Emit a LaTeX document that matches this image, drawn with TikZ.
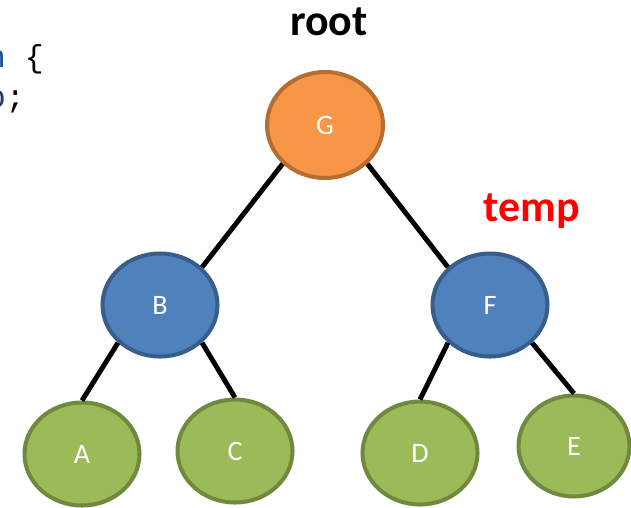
\documentclass[tikz,border=0pt]{standalone}
\usepackage{fontspec}
\setmainfont{Carlito}
\newfontfamily\codefont{Liberation Mono}
\usepackage{xcolor}
\usetikzlibrary{shapes.geometric}

\definecolor{rootfill}{HTML}{F79646}
\definecolor{rootline}{HTML}{B66D31}
\definecolor{innerfill}{HTML}{4F81BD}
\definecolor{innerline}{HTML}{385D8A}
\definecolor{leaffill}{HTML}{9BBB59}
\definecolor{leafline}{HTML}{71893F}
\definecolor{keyword}{HTML}{1F4E9B}
\definecolor{ident}{HTML}{1F3864}

\tikzset{
  treenode/.style={ellipse, inner sep=0pt, line width=2.3pt, minimum width=2.3cm, minimum height=2.06cm, text=white, font=\fontsize{16}{18}\selectfont},
  rootnode/.style={treenode, fill=rootfill, draw=rootline, minimum width=2.32cm, minimum height=2.12cm},
  innernode/.style={treenode, fill=innerfill, draw=innerline},
  leafnode/.style={treenode, fill=leaffill, draw=leafline},
  pointer/.style={font=\fontsize{25}{28}\selectfont\bfseries},
  codeline/.style={anchor=base west, inner sep=0pt, font=\codefont\fontsize{18}{20}\selectfont},
  branch/.style={line width=2.8pt}
}

\begin{document}
\begin{tikzpicture}[x=0.02cm, y=-0.02cm]
\useasboundingbox (0,0) rectangle (631,507);
\clip (0,0) rectangle (631,507);

% tail of the code listing on the left
\node (code1) [codeline] at (-13.5,67) {\textcolor{keyword}{n} \{};
\node (code2) [codeline] at (-13.5,107) {\textcolor{ident}{o};};

% the tree
\node (G) [rootnode] at (325,125) {G};
\node (B) [innernode] at (160,305) {B};
\node (F) [innernode] at (490,305) {F};
\node (A) [leafnode] at (82,454) {A};
\node (C) [leafnode] at (235,451) {C};
\node (D) [leafnode] at (420,453) {D};
\node (E) [leafnode, minimum width=2.22cm, minimum height=2.02cm] at (574,446) {E};

\node (rootlabel) [pointer] at (329,22) {root};
\node (templabel) [pointer, text=red] at (532,211) {temp};

\draw[branch] (G.south west) -- (B.north east);
\draw[branch] (G.south east) -- (F.north west);
\draw[branch] (B.south west) -- (A.north);
\draw[branch] (B.south east) -- (C.north);
\draw[branch] (F.south west) -- (D.north);
\draw[branch] (F.south east) -- (E.north);

\end{tikzpicture}
\end{document}
